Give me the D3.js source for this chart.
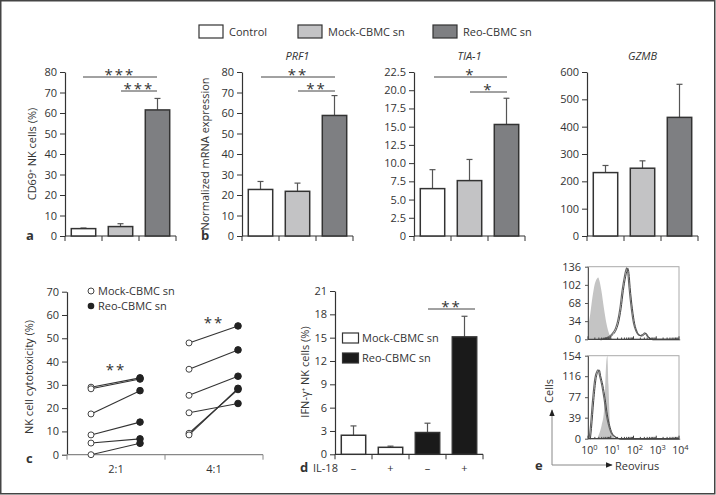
<!DOCTYPE html>
<html><head><meta charset="utf-8">
<script src="https://cdn.jsdelivr.net/npm/d3@7"></script>
<style>
body{margin:0;background:#fff;}
svg text{font-family:"Open Sans",sans-serif;fill:#333;}
</style></head>
<body><svg id="c" width="716" height="495"></svg>
<script>
// ---------- DATA ----------
const groups = ["Control", "Mock-CBMC sn", "Reo-CBMC sn"];
const groupColors = ["#ffffff", "#c3c3c5", "#7e7f82"];

const cd69Values = [3.6, 4.6, 61.5];
const cd69Errors = [3.9, 6.0, 67.1];

const prf1Values = [22.7, 21.8, 58.8];
const prf1Errors = [26.6, 25.8, 68.5];

const tia1Values = [6.5, 7.6, 15.3];
const tia1Errors = [9.1, 10.5, 18.9];

const gzmbValues = [232, 248, 434];
const gzmbErrors = [258, 275, 555];

const ratios = ["2:1", "4:1"];
const mock21 = [29, 28.3, 17.5, 8.5, 5, 0];
const reo21  = [33, 32.5, 27.5, 14, 6.8, 4.9];
const mock41 = [48, 36.7, 25.5, 18, 9.2, 8.5];
const reo41  = [55.3, 45, 33.7, 22, 28, 28.5];

const il18Labels = ["\u2013", "+", "\u2013", "+"];
const ifnValues = [2.45, 0.9, 2.8, 15.1];
const ifnErrors = [3.65, 1.05, 4.0, 17.75];
const ifnGroups = ["Mock-CBMC sn", "Mock-CBMC sn", "Reo-CBMC sn", "Reo-CBMC sn"];

// flow histograms: position in decades (log10 intensity) and cell counts
const topIsoDec   = [0.0, 0.1, 0.2, 0.3, 0.4, 0.45, 0.5, 0.6, 0.7, 0.8, 0.9, 1.0, 1.1];
const topIsoCnt   = [22, 48, 80, 104, 114, 116, 110, 88, 58, 32, 14, 4, 0];
const topStainDec = [0.5, 0.8, 1.0, 1.2, 1.3, 1.4, 1.5, 1.6, 1.65, 1.7, 1.75, 1.8, 1.9, 2.0, 2.1, 2.2, 2.3, 2.4, 2.5, 2.6, 2.7, 2.8, 4.0];
const topStainCnt = [0, 3, 8, 20, 34, 58, 92, 118, 128, 134, 124, 98, 58, 30, 16, 9, 7, 9, 12, 6, 2, 0, 0];
const botIsoDec   = [0.4, 0.5, 0.6, 0.7, 0.75, 0.8, 0.85, 0.9, 0.95, 1.0, 1.1, 1.2];
const botIsoCnt   = [0, 10, 25, 50, 90, 140, 154, 100, 40, 15, 5, 0];
const botStainDec = [0.05, 0.1, 0.2, 0.3, 0.4, 0.45, 0.5, 0.6, 0.7, 0.8, 0.9, 1.0, 1.1, 1.2, 1.3, 1.4, 4.0];
const botStainCnt = [0, 20, 72, 112, 126, 128, 118, 100, 75, 45, 25, 12, 6, 3, 1, 0, 0];
const topTicks = [0, 34, 68, 102, 136];
const botTicks = [0, 39, 77, 116, 154];

// ---------- DRAW ----------
const svg = d3.select("#c");
const dark = "#333";

svg.append("rect").attr("x", 0.75).attr("y", 0.75).attr("width", 714).attr("height", 493)
  .attr("fill", "none").attr("stroke", "#444").attr("stroke-width", 1.5);

function yAxis(g, y, ticks, fmt, x) {
  const ax = d3.axisLeft(y).tickValues(ticks).tickFormat(fmt).tickSize(5).tickSizeOuter(0).tickPadding(3);
  const a = g.append("g").attr("transform", `translate(${x},0)`).call(ax);
  a.select(".domain").attr("stroke", dark).attr("stroke-width", 1.2);
  a.selectAll(".tick line").attr("stroke", dark);
  a.selectAll("text").attr("font-size", 11).attr("font-family", "Open Sans").attr("fill", "#333");
  return a;
}
function xBandAxis(g, x, yPos, color) {
  const r = x.range();
  g.append("line").attr("x1", r[0]).attr("x2", r[1]).attr("y1", yPos).attr("y2", yPos)
    .attr("stroke", color || dark).attr("stroke-width", 1.2);
  const bounds = x.domain().map(d => x(d)).concat([r[1]]);
  g.selectAll(null).data(bounds).join("line")
    .attr("x1", d => d).attr("x2", d => d).attr("y1", yPos).attr("y2", yPos + 5)
    .attr("stroke", color || dark).attr("stroke-width", 1);
}
function sig(g, x1, x2, yLine, label) {
  g.append("line").attr("x1", x1).attr("x2", x2).attr("y1", yLine).attr("y2", yLine)
    .attr("stroke", "#444").attr("stroke-width", 1);
  g.append("text").attr("x", (x1 + x2) / 2).attr("y", yLine + 3).attr("text-anchor", "middle")
    .attr("font-size", 15).attr("letter-spacing", 2).text(label);
}
function barPanel(opts) {
  const g = svg.append("g");
  const x = d3.scaleBand().domain(opts.cats).range([opts.x0, opts.x1]);
  const y = d3.scaleLinear().domain([0, opts.max]).range([opts.yb, opts.yt]);
  yAxis(g, y, opts.ticks, opts.fmt, opts.x0);
  xBandAxis(g, x, opts.yb);
  const bw = x.bandwidth() * 0.66;
  opts.cats.forEach((c, i) => {
    const cx = x(c) + x.bandwidth() / 2;
    g.append("line").attr("x1", cx).attr("x2", cx).attr("y1", y(opts.vals[i])).attr("y2", y(opts.errs[i]))
      .attr("stroke", "#555").attr("stroke-width", 1.2);
    g.append("line").attr("x1", cx - 3).attr("x2", cx + 3).attr("y1", y(opts.errs[i])).attr("y2", y(opts.errs[i]))
      .attr("stroke", "#555").attr("stroke-width", 1.2);
    g.append("rect").attr("x", cx - bw / 2).attr("y", y(opts.vals[i]))
      .attr("width", bw).attr("height", y(0) - y(opts.vals[i]))
      .attr("fill", opts.colors[i]).attr("stroke", dark).attr("stroke-width", 1.5);
  });
  if (opts.title) g.append("text").attr("x", (opts.x0 + opts.x1) / 2).attr("y", 60).attr("text-anchor", "middle")
    .attr("font-size", 11).attr("font-style", "italic").text(opts.title);
  if (opts.ylabel) g.append("text").attr("transform", `translate(${opts.ylx},${opts.yly}) rotate(-90)`)
    .attr("text-anchor", "middle").attr("font-size", 11).text(opts.ylabel);
  return {g, x, y};
}

// legend top
[[199, 0], [298, 1], [433, 2]].forEach(([lx, i]) => {
  svg.append("rect").attr("x", lx).attr("y", 25).attr("width", 24).attr("height", 13)
    .attr("fill", groupColors[i]).attr("stroke", dark).attr("stroke-width", 1.2);
  svg.append("text").attr("x", lx + 30).attr("y", 36).attr("font-size", 11).text(groups[i]);
});

const fmtInt = d3.format("d");
const pa = barPanel({cats: groups, vals: cd69Values, errs: cd69Errors, colors: groupColors, x0: 65, x1: 176, yt: 72, yb: 236,
  max: 80, ticks: d3.range(0, 81, 10), fmt: fmtInt, ylabel: "CD69\u207A NK cells (%)", ylx: 36, yly: 154});
sig(pa.g, 83, 157, 77, "***");
sig(pa.g, 121, 157, 91, "***");

const pb = barPanel({cats: groups, vals: prf1Values, errs: prf1Errors, colors: groupColors, x0: 242, x1: 353, yt: 72, yb: 236,
  max: 80, ticks: d3.range(0, 81, 10), fmt: fmtInt, title: "PRF1", ylabel: "Normalized mRNA expression", ylx: 209, yly: 154});
sig(pb.g, 261, 335, 77, "**");
sig(pb.g, 298, 335, 91, "**");

const pt = barPanel({cats: groups, vals: tia1Values, errs: tia1Errors, colors: groupColors, x0: 414, x1: 525, yt: 72, yb: 236,
  max: 22.5, ticks: d3.range(0, 22.6, 2.5), fmt: d => d === 0 ? "0" : d.toFixed(1), title: "TIA-1"});
sig(pt.g, 434, 507, 77, "*");
sig(pt.g, 470, 507, 92, "*");

barPanel({cats: groups, vals: gzmbValues, errs: gzmbErrors, colors: groupColors, x0: 587, x1: 698, yt: 72, yb: 236,
  max: 600, ticks: d3.range(0, 601, 100), fmt: fmtInt, title: "GZMB"});

// panel letters
function letter(t, x, y) {
  svg.append("text").attr("x", x).attr("y", y).attr("font-size", 13).attr("font-weight", "bold").attr("fill", "#222").text(t);
}
letter("a", 26, 240); letter("b", 201, 240); letter("c", 26, 463); letter("d", 300, 472); letter("e", 535, 470);

// ---------- panel c ----------
{
  const g = svg.append("g");
  const x = d3.scaleBand().domain(ratios).range([67, 263]);
  const y = d3.scaleLinear().domain([0, 70]).range([454.7, 291.7]);
  yAxis(g, y, d3.range(0, 71, 10), fmtInt, 67);
  xBandAxis(g, x, 454.7, "#888");
  ratios.forEach(r => {
    g.append("text").attr("x", x(r) + x.bandwidth() / 2).attr("y", 473).attr("text-anchor", "middle")
      .attr("font-size", 11).text(r);
  });
  const pairs = [[ratios[0], mock21, reo21], [ratios[1], mock41, reo41]];
  pairs.forEach(([r, m, rv]) => {
    const xm = x(r) + x.bandwidth() * 0.245, xr = x(r) + x.bandwidth() * 0.745;
    m.forEach((v, i) => {
      g.append("line").attr("x1", xm).attr("x2", xr).attr("y1", y(v)).attr("y2", y(rv[i]))
        .attr("stroke", "#333").attr("stroke-width", 1.1);
    });
    m.forEach(v => g.append("circle").attr("cx", xm).attr("cy", y(v)).attr("r", 3)
      .attr("fill", "#fff").attr("stroke", "#444").attr("stroke-width", 1));
    rv.forEach(v => g.append("circle").attr("cx", xr).attr("cy", y(v)).attr("r", 3.3)
      .attr("fill", "#222").attr("stroke", "#222"));
  });
  g.append("text").attr("x", 116).attr("y", 375).attr("text-anchor", "middle").attr("font-size", 15).attr("letter-spacing", 2).text("**");
  g.append("text").attr("x", 214).attr("y", 328).attr("text-anchor", "middle").attr("font-size", 15).attr("letter-spacing", 2).text("**");
  g.append("circle").attr("cx", 91).attr("cy", 291).attr("r", 3).attr("fill", "#fff").attr("stroke", "#444");
  g.append("text").attr("x", 98).attr("y", 295).attr("font-size", 11).text("Mock-CBMC sn");
  g.append("circle").attr("cx", 91).attr("cy", 306).attr("r", 3.3).attr("fill", "#222");
  g.append("text").attr("x", 98).attr("y", 310).attr("font-size", 11).text("Reo-CBMC sn");
  g.append("text").attr("transform", "translate(33,377) rotate(-90)").attr("text-anchor", "middle")
    .attr("font-size", 11).text("NK cell cytotoxicity (%)");
}

// ---------- panel d ----------
{
  const g = svg.append("g");
  const cats = d3.range(ifnValues.length).map(String);
  const x = d3.scaleBand().domain(cats).range([335, 483]);
  const y = d3.scaleLinear().domain([0, 21]).range([454.3, 291]);
  yAxis(g, y, d3.range(0, 22, 3), fmtInt, 335);
  xBandAxis(g, x, 454.3);
  const bw = x.bandwidth() * 0.66;
  const col = {"Mock-CBMC sn": "#ffffff", "Reo-CBMC sn": "#1a1a1a"};
  cats.forEach((c, i) => {
    const cx = x(c) + x.bandwidth() / 2;
    g.append("line").attr("x1", cx).attr("x2", cx).attr("y1", y(ifnValues[i])).attr("y2", y(ifnErrors[i]))
      .attr("stroke", "#555").attr("stroke-width", 1.2);
    g.append("line").attr("x1", cx - 3).attr("x2", cx + 3).attr("y1", y(ifnErrors[i])).attr("y2", y(ifnErrors[i]))
      .attr("stroke", "#555").attr("stroke-width", 1.2);
    g.append("rect").attr("x", cx - bw / 2).attr("y", y(ifnValues[i])).attr("width", bw)
      .attr("height", y(0) - y(ifnValues[i])).attr("fill", col[ifnGroups[i]]).attr("stroke", dark).attr("stroke-width", 1.5);
    g.append("text").attr("x", cx).attr("y", 472).attr("text-anchor", "middle").attr("font-size", 11).text(il18Labels[i]);
  });
  g.append("text").attr("x", 313).attr("y", 472).attr("font-size", 11).text("IL-18");
  sig(g, 428, 475, 309, "**");
  [["Mock-CBMC sn", 333], ["Reo-CBMC sn", 353]].forEach(([t, yy]) => {
    g.append("rect").attr("x", 342.5).attr("y", yy).attr("width", 16).attr("height", 10)
      .attr("fill", col[t]).attr("stroke", dark).attr("stroke-width", 1.2);
    g.append("text").attr("x", 362).attr("y", yy + 9).attr("font-size", 11).text(t);
  });
  g.append("text").attr("transform", "translate(309,372) rotate(-90)").attr("text-anchor", "middle")
    .attr("font-size", 11).text("IFN-\u03B3\u207A NK cells (%)");
}

// ---------- panel e ----------
{
  const g = svg.append("g");
  const x = d3.scaleLog().domain([1, 1e4]).range([588, 679]);
  function hist(yt, yb, maxC, ticks, isoD, isoC, stD, stC) {
    const y = d3.scaleLinear().domain([0, maxC]).range([yb, yt]);
    g.append("rect").attr("x", 588).attr("y", yt).attr("width", 91).attr("height", yb - yt)
      .attr("fill", "none").attr("stroke", "#aaa").attr("stroke-width", 1);
    const area = d3.area().x(d => x(Math.pow(10, d[0]))).y0(yb).y1(d => y(d[1])).curve(d3.curveMonotoneX);
    g.append("path").datum(d3.zip(isoD, isoC)).attr("d", area).attr("fill", "#c4c4c4");
    const line = d3.line().x(d => x(Math.pow(10, d[0]))).y(d => y(d[1])).curve(d3.curveMonotoneX);
    g.append("path").datum(d3.zip(stD, stC)).attr("d", line).attr("fill", "none").attr("stroke", "#666").attr("stroke-width", 1.1);
    g.append("path").datum(d3.zip(stD, stC)).attr("d", line).attr("fill", "none").attr("stroke", "#444").attr("stroke-width", 1)
      .attr("transform", "translate(1.2,0.5)");
    const ax = d3.axisLeft(y).tickValues(ticks).tickSize(3).tickSizeOuter(0).tickPadding(4);
    const a = g.append("g").attr("transform", "translate(588,0)").call(ax);
    a.select(".domain").attr("stroke", "#555");
    a.selectAll(".tick line").attr("stroke", "#555");
    a.selectAll("text").attr("font-size", 11).attr("font-family", "Open Sans").attr("fill", "#333");
    g.append("line").attr("x1", 588).attr("x2", 679).attr("y1", yb).attr("y2", yb).attr("stroke", "#444").attr("stroke-width", 1.3);
    const minor = [];
    for (let e = 0; e < 4; e++) for (let k = 1; k < 10; k++) minor.push(k * Math.pow(10, e));
    minor.push(1e4);
    g.selectAll(null).data(minor).join("line").attr("x1", d => x(d)).attr("x2", d => x(d))
      .attr("y1", yb).attr("y2", d => yb - (Math.log10(d) % 1 === 0 ? 3 : 1.8)).attr("stroke", "#444");
  }
  hist(266.7, 339.3, 136, topTicks, topIsoDec, topIsoCnt, topStainDec, topStainCnt);
  hist(355.7, 438.7, 154, botTicks, botIsoDec, botIsoCnt, botStainDec, botStainCnt);
  [1, 10, 100, 1000, 10000].forEach((v, i) => {
    const t = g.append("text").attr("x", x(v) + 1.5).attr("y", 454).attr("text-anchor", "middle").attr("font-size", 10.5);
    t.append("tspan").text("10");
    t.append("tspan").attr("dy", -4).attr("font-size", 7.5).text(String(i));
  });
  g.append("defs").append("marker").attr("id", "arr").attr("viewBox", "0 0 10 10").attr("refX", 9).attr("refY", 5)
    .attr("markerWidth", 7).attr("markerHeight", 7).attr("orient", "auto")
    .append("path").attr("d", "M0,1 L10,5 L0,9 z").attr("fill", "#222");
  g.append("path").attr("d", "M552,465 L552,410").attr("stroke", "#888").attr("stroke-width", 1).attr("marker-end", "url(#arr)");
  g.append("path").attr("d", "M552,465 L612,465").attr("stroke", "#888").attr("stroke-width", 1).attr("marker-end", "url(#arr)");
  g.append("text").attr("x", 615).attr("y", 469.5).attr("font-size", 11).text("Reovirus");
  g.append("text").attr("transform", "translate(553,391) rotate(-90)").attr("text-anchor", "middle")
    .attr("font-size", 11).text("Cells");
}
</script></body></html>
